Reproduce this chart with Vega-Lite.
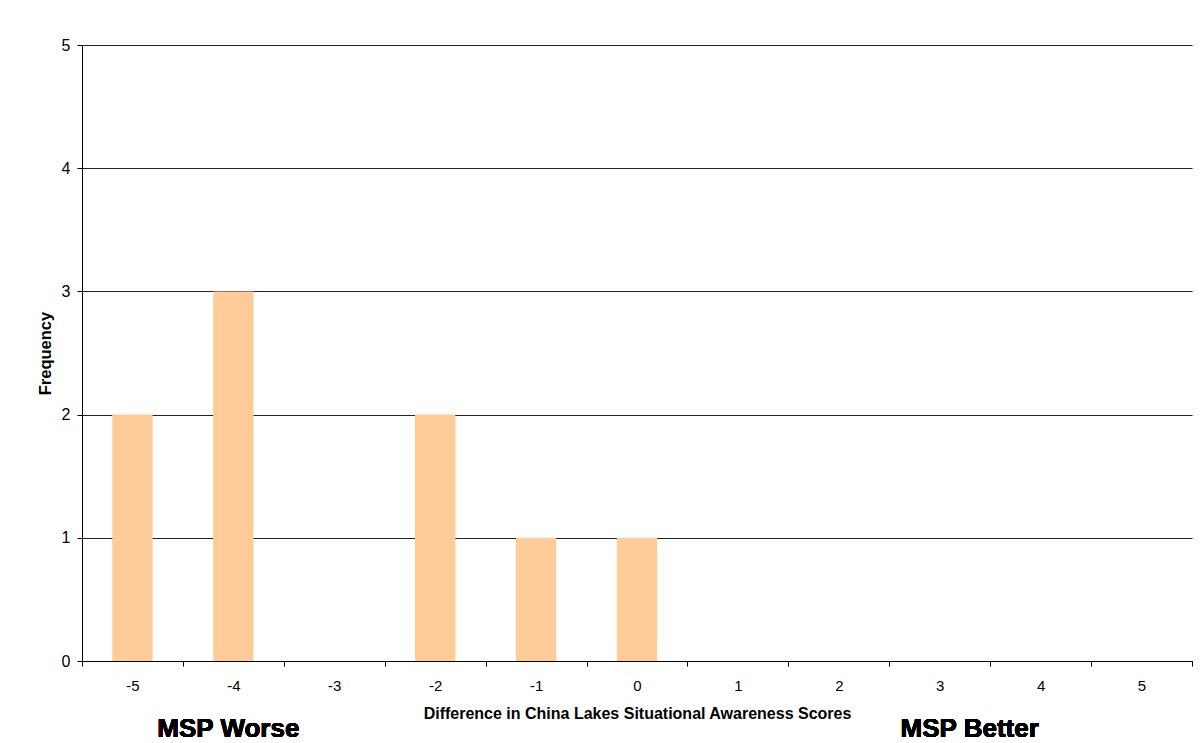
{
  "$schema": "https://vega.github.io/schema/vega-lite/v6.json",
  "width": 1110,
  "height": 616,
  "autosize": "none",
  "padding": {"left": 82, "top": 45, "right": 8, "bottom": 82},
  "background": "white",
  "config": {
    "font": "Liberation Sans",
    "view": {"stroke": null},
    "axis": {"labelColor": "#000", "titleColor": "#000", "domainColor": "#000", "tickColor": "#000", "labelFont": "Liberation Sans", "titleFont": "Liberation Sans"}
  },
  "data": {
    "values": [
      {"diff": -5, "freq": 2},
      {"diff": -4, "freq": 3},
      {"diff": -3, "freq": 0},
      {"diff": -2, "freq": 2},
      {"diff": -1, "freq": 1},
      {"diff": 0, "freq": 1},
      {"diff": 1, "freq": 0},
      {"diff": 2, "freq": 0},
      {"diff": 3, "freq": 0},
      {"diff": 4, "freq": 0},
      {"diff": 5, "freq": 0}
    ]
  },
  "encoding": {
    "x": {
      "field": "diff",
      "type": "ordinal",
      "scale": {"domain": [-5, -4, -3, -2, -1, 0, 1, 2, 3, 4, 5], "paddingInner": 0, "paddingOuter": 0},
      "axis": {
        "title": "Difference in China Lakes Situational Awareness Scores",
        "titleFontSize": 16,
        "titleFontWeight": "bold",
        "titlePadding": 12,
        "labelAngle": 0,
        "labelFontSize": 15,
        "labelPadding": 12,
        "tickBand": "extent",
        "tickSize": 5,
        "grid": false
      }
    },
    "y": {
      "field": "freq",
      "type": "quantitative",
      "scale": {"domain": [0, 5], "nice": false},
      "axis": {
        "title": "Frequency",
        "titleFontSize": 16.5,
        "titleFontWeight": "bold",
        "titlePadding": 8,
        "values": [0, 1, 2, 3, 4, 5],
        "labelFontSize": 16,
        "labelPadding": 7,
        "tickSize": 5,
        "grid": true,
        "gridColor": "#222",
        "gridWidth": 1,
        "gridOpacity": 1
      }
    }
  },
  "layer": [
    {
      "mark": {"type": "bar", "color": "#FFCC99", "width": {"band": 0.4}}
    },
    {
      "mark": {"type": "text", "text": "MSP Worse", "fontSize": 26, "fontWeight": "bold", "align": "center", "baseline": "alphabetic", "dx": -5, "color": "#000"},
      "encoding": {
        "x": {"datum": -4, "type": "ordinal"},
        "y": {"datum": -0.62, "type": "quantitative"}
      }
    },
    {
      "mark": {"type": "text", "text": "MSP Better", "fontSize": 26, "fontWeight": "bold", "align": "center", "baseline": "alphabetic", "dx": 30, "color": "#000"},
      "encoding": {
        "x": {"datum": 3, "type": "ordinal"},
        "y": {"datum": -0.62, "type": "quantitative"}
      }
    }
  ]
}
